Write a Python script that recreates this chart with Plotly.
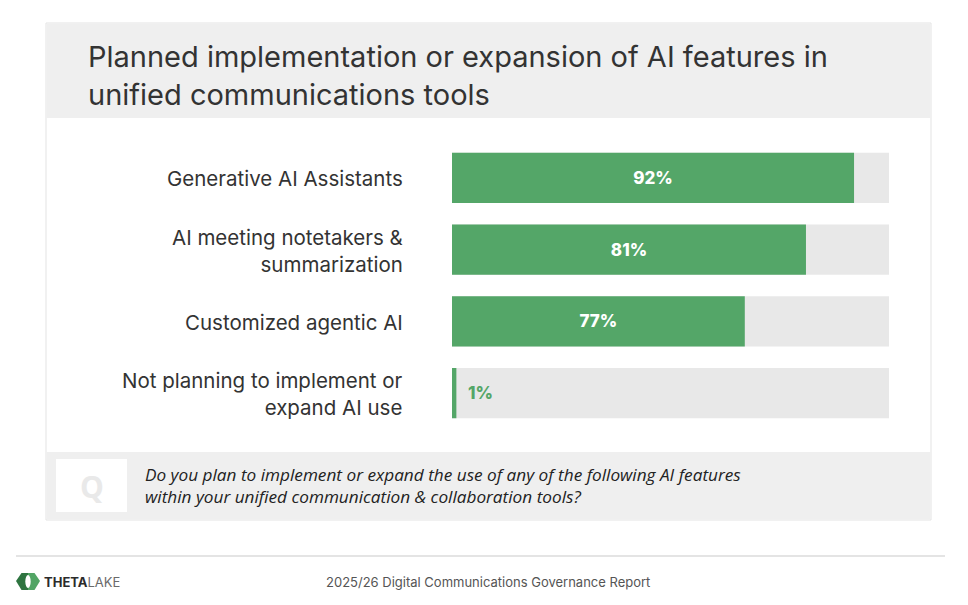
import plotly.graph_objects as go

# ---------------- data ----------------
categories = [
    "Generative AI Assistants",
    "AI meeting notetakers &<br>summarization",
    "Customized agentic AI",
    "Not planning to implement or<br>expand AI use",
]
# bar lengths as drawn in the reference (percent of the full track)
bar_values = [92, 81, 67, 1]
# printed value labels
value_labels = ["92%", "81%", "77%", "1%"]
track_values = [100, 100, 100, 100]

title_text = "Planned implementation or expansion of AI features in<br>unified communications tools"
question_text = ("Do you plan to implement or expand the use of any of the following AI features<br>"
                 "within your unified communication &amp; collaboration tools?")
footer_text = "2025/26 Digital Communications Governance Report"

GREEN = "#54a668"
TRACK = "#e8e8e8"
BAND = "#efefef"
DARK = "#333333"

# ---------------- layout geometry (pixels) ----------------
W, H = 968, 605
PL, PR = 452, 889          # plot area left / right
PT, PB = 142, 429          # plot area top / bottom


def px(x):
    return (x - PL) / (PR - PL)


def py(y):
    return (PB - y) / (PB - PT)


fig = go.Figure()

fig.add_trace(go.Bar(
    y=categories, x=track_values, orientation="h",
    marker=dict(color=TRACK, line=dict(width=0)),
    hoverinfo="skip", showlegend=False,
))
fig.add_trace(go.Bar(
    y=categories, x=bar_values, orientation="h",
    marker=dict(color=GREEN, line=dict(width=0)),
    text=value_labels,
    texttemplate=["%{text}", "%{text}", "%{text}", "\u2002%{text}"],
    textposition=["inside", "inside", "inside", "outside"],
    insidetextanchor="middle",
    constraintext="none",
    insidetextfont=dict(family="Inter", size=17, color="white", weight=800),
    outsidetextfont=dict(family="Inter", size=17, color=GREEN, weight=800),
    cliponaxis=False,
    hoverinfo="skip", showlegend=False,
))

shapes = []
# card background
shapes.append(dict(type="rect", xref="paper", yref="paper", layer="below",
                   x0=px(46), x1=px(931), y0=py(520), y1=py(23),
                   fillcolor="white", line=dict(color="#e3e3e3", width=1)))
# header band
shapes.append(dict(type="rect", xref="paper", yref="paper", layer="below",
                   x0=px(46.5), x1=px(930.5), y0=py(118), y1=py(23.5),
                   fillcolor=BAND, line=dict(width=0)))
# bottom band
shapes.append(dict(type="rect", xref="paper", yref="paper", layer="below",
                   x0=px(46.5), x1=px(930.5), y0=py(519.5), y1=py(452),
                   fillcolor=BAND, line=dict(width=0)))
# Q box
shapes.append(dict(type="rect", xref="paper", yref="paper", layer="below",
                   x0=px(56), x1=px(127), y0=py(512), y1=py(459),
                   fillcolor="white", line=dict(width=0)))
# footer rule
shapes.append(dict(type="line", xref="paper", yref="paper", layer="below",
                   x0=px(16), x1=px(945), y0=py(556), y1=py(556),
                   line=dict(color="#e4e4e4", width=2)))


def path(points):
    s = "M " + " L ".join(f"{px(x)},{py(y)}" for x, y in points) + " Z"
    return s


# logo: hexagon halves + white center
shapes.append(dict(type="path", xref="paper", yref="paper", layer="below",
                   path=path([(16, 581), (21.5, 573), (28, 573), (28, 590), (21.5, 590)]),
                   fillcolor="#2e7440", line=dict(width=0)))
shapes.append(dict(type="path", xref="paper", yref="paper", layer="below",
                   path=path([(28, 573), (34.5, 573), (40, 581), (34.5, 590), (28, 590)]),
                   fillcolor="#52a565", line=dict(width=0)))
shapes.append(dict(type="circle", xref="paper", yref="paper", layer="below",
                   x0=px(25.3), x1=px(30.7), y0=py(588), y1=py(575),
                   fillcolor="white", line=dict(width=0)))

annotations = []
# title
annotations.append(dict(xref="paper", yref="paper", x=px(86), y=py(76),
                        xanchor="left", yanchor="middle", align="left",
                        text=title_text, showarrow=False,
                        font=dict(family="Inter", size=29, color=DARK)))
# category labels
for cat in categories:
    annotations.append(dict(xref="paper", yref="y", x=px(405), y=cat,
                            xanchor="right", yanchor="middle", align="right",
                            yshift=-1,
                            text=cat, showarrow=False,
                            font=dict(family="Inter", size=20.5, color=DARK)))
# Q letter
annotations.append(dict(xref="paper", yref="paper", x=px(91.5), y=py(486),
                        xanchor="center", yanchor="middle",
                        text="<b>Q</b>", showarrow=False,
                        font=dict(family="Open Sans", size=30, color="#e9e9e9")))
# question
annotations.append(dict(xref="paper", yref="paper", x=px(143), y=py(485),
                        xanchor="left", yanchor="middle", align="left",
                        text=question_text, showarrow=False,
                        font=dict(family="Open Sans", size=17.2, color="#222222",
                                  style="italic")))
# logo text
annotations.append(dict(xref="paper", yref="paper", x=px(42), y=py(581.5),
                        xanchor="left", yanchor="middle", align="left",
                        text="<b>THETA</b><span style='color:#6a6a6a'>LAKE</span>",
                        showarrow=False,
                        font=dict(family="Inter", size=13, color="#2b2b2b")))
# footer report title
annotations.append(dict(xref="paper", yref="paper", x=px(488), y=py(582),
                        xanchor="center", yanchor="middle",
                        text=footer_text, showarrow=False,
                        font=dict(family="Inter", size=13, color="#555555")))

fig.update_layout(
    width=W, height=H,
    margin=dict(l=PL, r=W - PR, t=PT, b=H - PB, pad=0),
    paper_bgcolor="white", plot_bgcolor="rgba(0,0,0,0)",
    barmode="overlay", bargap=0.3,
    xaxis=dict(range=[0, 100], visible=False, fixedrange=True),
    yaxis=dict(categoryorder="array", categoryarray=categories,
               range=[3.5, -0.5], visible=False, fixedrange=True),
    shapes=shapes, annotations=annotations,
    showlegend=False, hovermode=False,
)

fig.write_html("out.html", config={"displayModeBar": False})
